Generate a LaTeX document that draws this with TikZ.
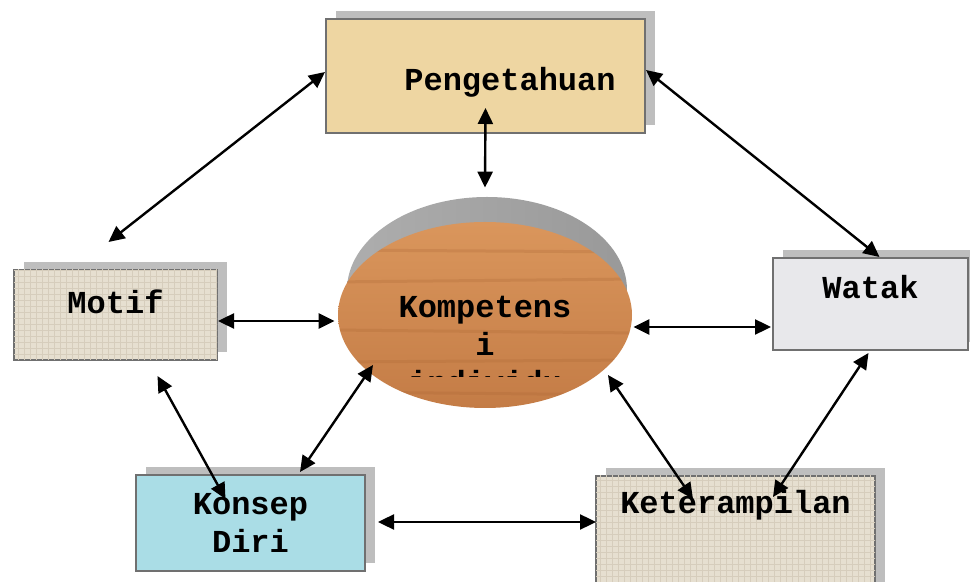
\documentclass[tikz,border=0pt]{standalone}
\usepackage{fontspec}
\setmonofont{Liberation Mono}
\usepackage{tikz}
\usetikzlibrary{arrows.meta,positioning,shapes.geometric,shadows,patterns,calc}
\definecolor{boxline}{RGB}{112, 112, 112}
\definecolor{shadowgray}{RGB}{190, 190, 190}
\definecolor{papyrus}{RGB}{238, 214, 162}
\definecolor{canvas}{RGB}{230, 223, 208}
\definecolor{weave}{RGB}{214, 205, 188}
\definecolor{marble}{RGB}{232, 232, 235}
\definecolor{water}{RGB}{170, 221, 230}
\definecolor{woodtop}{RGB}{218, 150, 92}
\definecolor{woodbot}{RGB}{196, 124, 70}
\definecolor{grain}{RGB}{170, 100, 50}

\begin{document}
\begin{tikzpicture}[x=0.5pt, y=-0.5pt, >={Triangle[length=8pt, width=7.5pt]},
			font=\ttfamily\bfseries\fontsize{16}{19}\selectfont,
			card/.style={draw=boxline, line width=1pt, rectangle, inner sep=0pt,
				drop shadow={shadow xshift=5pt, shadow yshift=4pt, fill=shadowgray, opacity=1}},
			papyruscard/.style={card, fill=papyrus},
			canvascard/.style={card, fill=canvas, postaction={pattern=grid, pattern color=weave}},
			marblecard/.style={card, fill=marble},
			watercard/.style={card, fill=water},
			link/.style={<->, line width=1.2pt, color=black}
			]
			\useasboundingbox (0,0) rectangle (970,582);
			
			% the five competence boxes
			\node[papyruscard, minimum width=159.5pt, minimum height=57pt,
				label={[xshift=12.25pt, yshift=-3pt]center:Pengetahuan}] (peng) at (485.5,76) {};
			\node[canvascard, minimum width=101.5pt, minimum height=45pt,
				label={[yshift=6.5pt]center:Motif}] (motif) at (115.5,315) {};
			\node[marblecard, minimum width=97.5pt, minimum height=46pt,
				label={[yshift=8.5pt]center:Watak}] (watak) at (870.5,304) {};
			\node[watercard, minimum width=114.5pt, minimum height=48pt,
				label={[align=center]center:Konsep\\Diri}] (konsep) at (250.5,523) {};
			\node[canvascard, minimum width=139.5pt, minimum height=58pt,
				label={[yshift=14.5pt]center:Keterampilan}] (ketr) at (735.5,534) {};
			
			% raised disc in the middle
			\shade[left color=black!32, middle color=black!8, right color=black!40]
				(487,290) ellipse [x radius=70pt, y radius=46.5pt];
			\node[ellipse, draw=none, top color=woodtop, bottom color=woodbot,
				minimum width=147pt, minimum height=93pt, inner sep=0pt] (komp) at (485,315) {};
			\begin{scope}
				\clip (komp.center) ellipse [x radius=73.5pt, y radius=46.5pt];
				\draw[grain, opacity=0.25, line width=1.5pt] (330,250) -- (640,252) (330,282) -- (640,279)
					(330,330) -- (640,333) (330,362) -- (640,360) (330,392) -- (640,395);
			\end{scope}
			\begin{scope}
				\clip (330,280) rectangle (640,377);
				\node[align=center] (kompText) at (485,345) {Kompetens\\i\\individu};
			\end{scope}
			
			% links
			\draw [link] ([shift={(0,-4)}]peng.west) to ([shift={(-7,-27)}]motif.north);
			\draw [link] ([shift={(0,-26)}]peng.south) to ([shift={(0,-34)}]komp.north);
			\draw [link] ([shift={(0,-6)}]peng.east) to ([shift={(9,0)}]watak.north);
			\draw [link] ([shift={(0,6)}]motif.east) to ([shift={(-3,6)}]komp.west);
			\draw [link] ([shift={(1,12)}]komp.east) to ([shift={(-1,23)}]watak.west);
			\draw [link] ([shift={(42,15)}]motif.south) to ([shift={(-25,25)}]konsep.north);
			\draw [link] ([shift={(-112,50)}]komp.center) to ([shift={(49.5,-2)}]konsep.north);
			\draw [link] ([shift={(123,60)}]komp.center) to ([shift={(-42.5,24)}]ketr.north);
			\draw [link] ([shift={(-2,2)}]watak.south) to ([shift={(37.5,22)}]ketr.north);
			\draw [link] ([shift={(12,-1)}]konsep.east) to ([shift={(1,-12)}]ketr.west);
\end{tikzpicture}
\end{document}
